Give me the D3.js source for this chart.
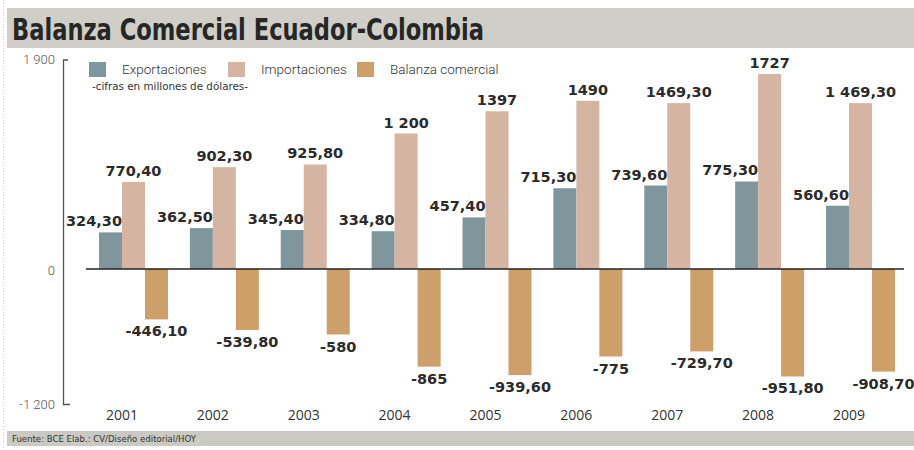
<!DOCTYPE html>
<html>
<head>
<meta charset="utf-8">
<script src="https://cdn.jsdelivr.net/npm/d3@7"></script>
<style>
  body { margin: 0; background: #fff; }
  svg { display: block; }
</style>
</head>
<body>
<script>
// valores en millones de dólares
var years = ["2001", "2002", "2003", "2004", "2005", "2006", "2007", "2008", "2009"];
var exportaciones = [324.3, 362.5, 345.4, 334.8, 457.4, 715.3, 739.6, 775.3, 560.6];
var importaciones = [770.4, 902.3, 925.8, 1200, 1397, 1490, 1469.3, 1727, 1469.3];
var balanza = [-446.1, -539.8, -580, -865, -939.6, -775, -729.7, -951.8, -908.7];

// etiquetas tal como aparecen en el original
var exportLabels = ["324,30", "362,50", "345,40", "334,80", "457,40", "715,30", "739,60", "775,30", "560,60"];
var importLabels = ["770,40", "902,30", "925,80", "1 200", "1397", "1490", "1469,30", "1727", "1 469,30"];
var balanzaLabels = ["-446,10", "-539,80", "-580", "-865", "-939,60", "-775", "-729,70", "-951,80", "-908,70"];

var seriesNames = ["Exportaciones", "Importaciones", "Balanza comercial"];
var yTicks = [1900, 0, -1200];
var yTickLabels = ["1 900", "0", "-1 200"];

window.onload = function () {

    var width = 914,
        height = 450;

    var colors = ["#7f979c", "#d5b4a1", "#cda06a"];

    var svg = d3.select("body")
        .append("svg")
        .attr("width", width)
        .attr("height", height);

    // bordes punteados
    svg.append("line")
        .attr("x1", 3.5).attr("x2", 3.5)
        .attr("y1", 0).attr("y2", height)
        .style("stroke", "#cfcfcf")
        .style("stroke-dasharray", "1,2");

    // barra del titulo
    svg.append("rect")
        .attr("x", 7).attr("y", 8)
        .attr("width", width - 7).attr("height", 40)
        .style("fill", "#cfcfc8");

    svg.append("text")
        .attr("x", 12).attr("y", 40)
        .attr("textLength", 472)
        .attr("lengthAdjust", "spacingAndGlyphs")
        .style("font-family", "'Liberation Sans Narrow', 'DejaVu Sans Condensed', sans-serif")
        .style("font-weight", "bold")
        .style("font-size", "30px")
        .style("fill", "#262626")
        .text("Balanza Comercial Ecuador-Colombia");

    // pie
    svg.append("rect")
        .attr("x", 7).attr("y", 431)
        .attr("width", width - 7).attr("height", 15)
        .style("fill", "#cacac2");

    svg.append("text")
        .attr("x", 12).attr("y", 442)
        .attr("textLength", 184)
        .attr("lengthAdjust", "spacingAndGlyphs")
        .style("font-family", "'DejaVu Sans Condensed', sans-serif")
        .style("font-size", "9px")
        .style("fill", "#333")
        .text("Fuente: BCE  Elab.: CV/Diseño editorial/HOY");

    // escalas
    var y = d3.scaleLinear()
        .domain([-1200, 1900])
        .range([404.5, 54.5]);

    var x0 = d3.scaleBand()
        .domain(years)
        .range([99, 895])
        .paddingInner(0.241)
        .paddingOuter(0);

    var x1 = d3.scaleBand()
        .domain(seriesNames)
        .range([0, x0.bandwidth()]);

    // eje vertical
    var axisTop = 60, axisBottom = y(-1200);
    svg.append("path")
        .attr("d", "M68," + axisTop + "H63.5V" + axisBottom + "H70")
        .style("fill", "none")
        .style("stroke", "#555")
        .style("stroke-width", 1.3);

    var tickY = [59, 270, 404];
    svg.selectAll(".ylab")
        .data(yTicks)
        .enter()
        .append("text")
        .attr("class", "ylab")
        .attr("x", 55)
        .attr("y", function (d, i) { return tickY[i]; })
        .attr("dy", "0.35em")
        .attr("text-anchor", "end")
        .style("font-family", "Roboto, sans-serif")
        .style("font-weight", 300)
        .style("font-size", "13px")
        .style("fill", "#555")
        .text(function (d, i) { return yTickLabels[i]; });

    // datos por grupo
    var rows = years.map(function (yr, i) {
        return {
            year: yr,
            values: [
                { name: seriesNames[0], value: exportaciones[i], label: exportLabels[i], k: 0 },
                { name: seriesNames[1], value: importaciones[i], label: importLabels[i], k: 1 },
                { name: seriesNames[2], value: balanza[i], label: balanzaLabels[i], k: 2 }
            ]
        };
    });

    var groups = svg.selectAll(".grupo")
        .data(rows)
        .enter()
        .append("g")
        .attr("class", "grupo")
        .attr("transform", function (d) { return "translate(" + x0(d.year) + ",0)"; });

    groups.selectAll("rect")
        .data(function (d) { return d.values; })
        .enter()
        .append("rect")
        .attr("x", function (d) { return x1(d.name); })
        .attr("width", x1.bandwidth())
        .attr("y", function (d) { return y(Math.max(0, d.value)); })
        .attr("height", function (d) { return Math.abs(y(d.value) - y(0)); })
        .style("fill", function (d) { return colors[d.k]; });

    groups.selectAll(".valor")
        .data(function (d) { return d.values; })
        .enter()
        .append("text")
        .attr("class", "valor")
        .attr("x", function (d) {
            if (d.k === 0) return x1(d.name) + x1.bandwidth();
            return x1(d.name) + x1.bandwidth() / 2;
        })
        .attr("y", function (d) {
            return d.value < 0 ? y(d.value) + 17 : y(d.value) - 6;
        })
        .attr("text-anchor", function (d) { return d.k === 0 ? "end" : "middle"; })
        .style("font-family", "'DejaVu Sans', sans-serif")
        .style("font-weight", "bold")
        .style("font-size", "14.5px")
        .style("fill", "#2b2b2b")
        .text(function (d) { return d.label; });

    // linea cero
    svg.append("line")
        .attr("x1", 86).attr("x2", 904)
        .attr("y1", y(0)).attr("y2", y(0))
        .style("stroke", "#222")
        .style("stroke-width", 1.5);

    // años
    svg.selectAll(".anio")
        .data(years)
        .enter()
        .append("text")
        .attr("class", "anio")
        .attr("x", function (d) { return x0(d) + x1.bandwidth(); })
        .attr("y", 420)
        .attr("text-anchor", "middle")
        .style("font-family", "'Open Sans', sans-serif")
        .style("font-size", "14px")
        .style("fill", "#333")
        .text(function (d) { return d; });

    // leyenda
    var legendX = [89, 228, 357];
    var legend = svg.selectAll(".leyenda")
        .data(seriesNames)
        .enter()
        .append("g")
        .attr("class", "leyenda")
        .attr("transform", function (d, i) { return "translate(" + legendX[i] + ",62)"; });

    legend.append("rect")
        .attr("width", 17)
        .attr("height", 15)
        .style("fill", function (d, i) { return colors[i]; });

    legend.append("text")
        .attr("x", 33)
        .attr("y", 11.5)
        .style("font-family", "Roboto, sans-serif")
        .style("font-weight", 300)
        .style("font-size", "13.5px")
        .style("fill", "#333")
        .text(function (d) { return d; });

    svg.append("text")
        .attr("x", 92).attr("y", 90)
        .attr("textLength", 156)
        .attr("lengthAdjust", "spacingAndGlyphs")
        .style("font-family", "'DejaVu Sans Condensed', sans-serif")
        .style("font-size", "11px")
        .style("fill", "#333")
        .text("-cifras en millones de dólares-");
};
</script>
</body>
</html>
